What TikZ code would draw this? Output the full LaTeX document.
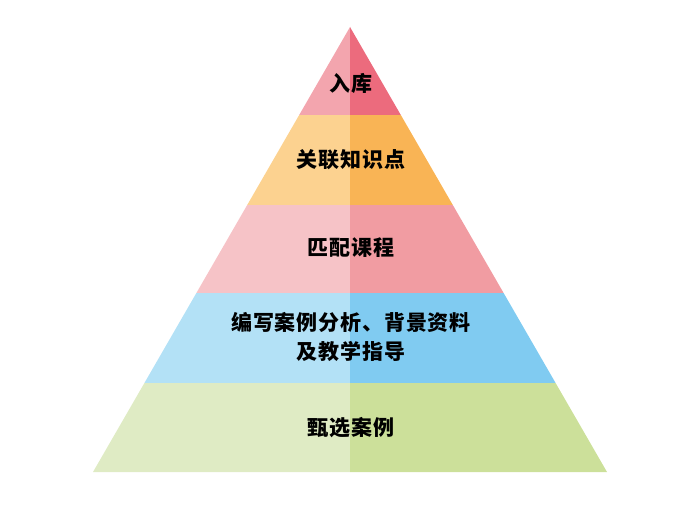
\documentclass[tikz,border=0pt]{standalone}
\usepackage{fontspec}
\newfontfamily\cjk{Noto Sans CJK SC}[LetterSpace=4]
\usetikzlibrary{calc}
\definecolor{redL}{HTML}{F3A5AE}
\definecolor{redR}{HTML}{EC6B7D}
\definecolor{orangeL}{HTML}{FCD290}
\definecolor{orangeR}{HTML}{F9B455}
\definecolor{pinkL}{HTML}{F6C3C7}
\definecolor{pinkR}{HTML}{F19CA2}
\definecolor{blueL}{HTML}{B3E1F6}
\definecolor{blueR}{HTML}{80CBF1}
\definecolor{greenL}{HTML}{DFEBC4}
\definecolor{greenR}{HTML}{CCE09A}
% one band of the pyramid: top y, bottom y, left colour, right colour
\newcommand{\band}[4]{%
  \pgfmathsetmacro\hwtop{(#1-27)/445*257}%
  \pgfmathsetmacro\hwbot{(#2-27)/445*257}%
  \fill[#3] (350-\hwtop,#1)--(350,#1)--(350,#2)--(350-\hwbot,#2)--cycle;
  \fill[#4] (350,#1)--(350+\hwtop,#1)--(350+\hwbot,#2)--(350,#2)--cycle;}

\begin{document}
\begin{tikzpicture}[x=1pt,y=-1pt,
  tier/.style={font=\cjk\bfseries\fontsize{21}{29}\selectfont,align=center,inner sep=0pt}]
\useasboundingbox (0,0) rectangle (700,508);
\band{27}{115}{redL}{redR}
\band{115}{205}{orangeL}{orangeR}
\band{205}{293}{pinkL}{pinkR}
\band{293}{383}{blueL}{blueR}
\band{383}{472}{greenL}{greenR}
\node[tier] (ruku) at (351,83) {入库};
\node[tier] (guanlian) at (351,160) {关联知识点};
\node[tier] (pipei) at (351,248) {匹配课程};
\node[tier] (bianxie) at (351,337) {编写案例分析、背景资料\\及教学指导};
\node[tier] (zhenxuan) at (351,428) {甄选案例};
\end{tikzpicture}
\end{document}
